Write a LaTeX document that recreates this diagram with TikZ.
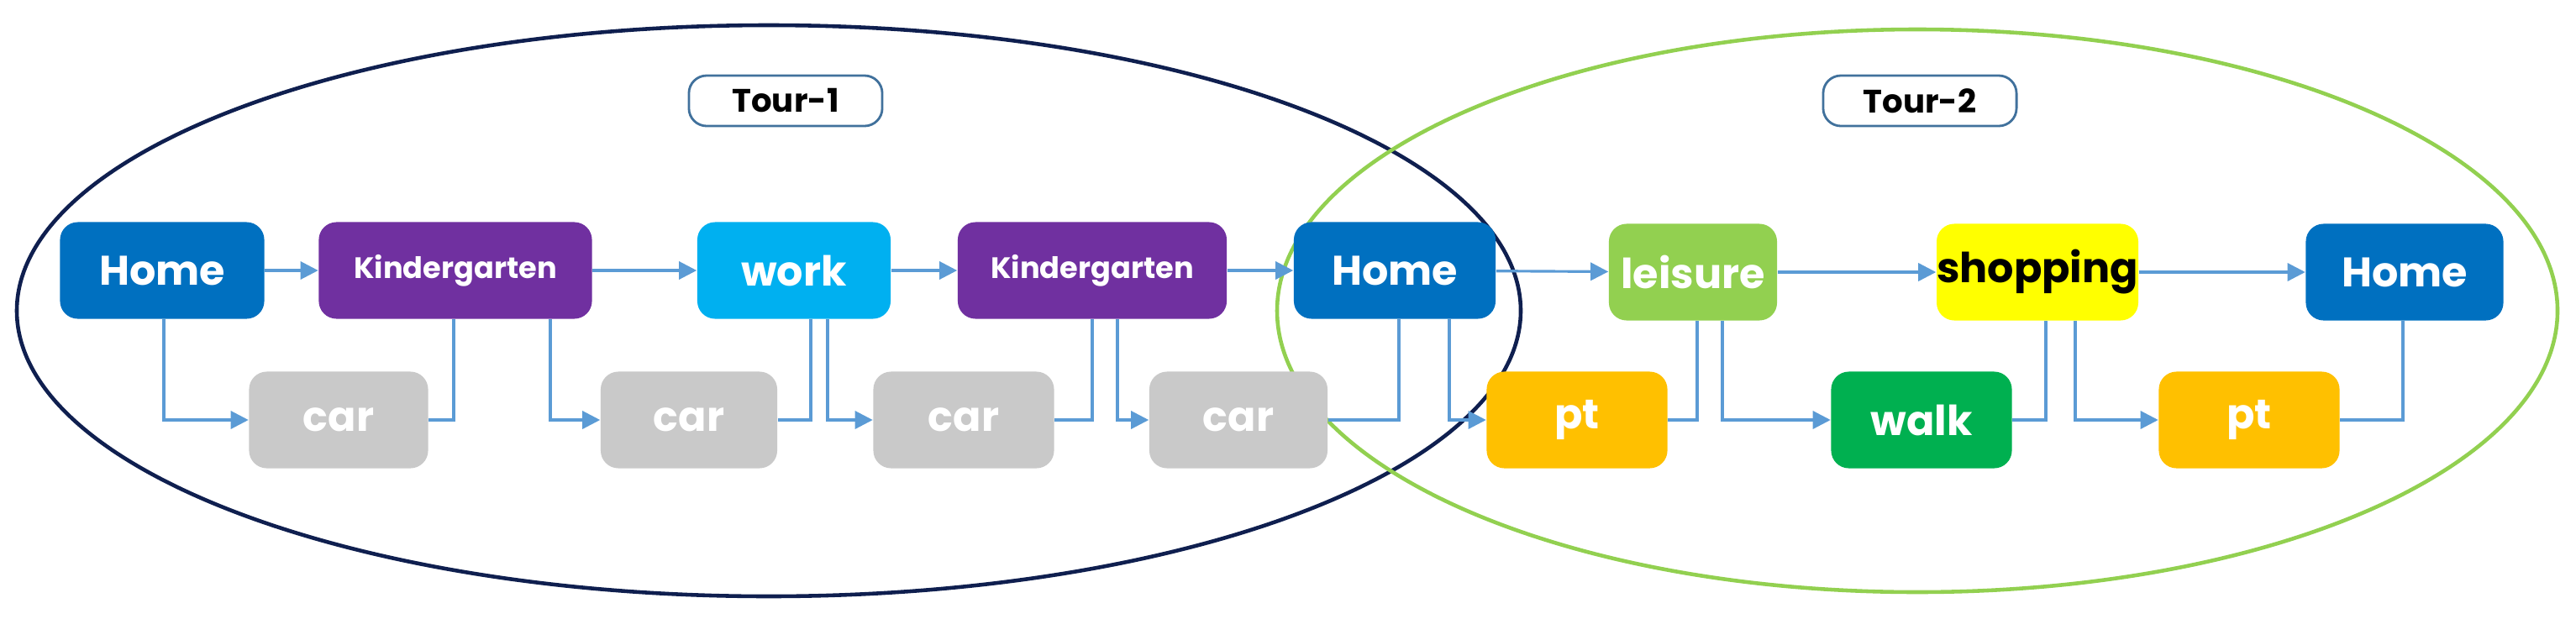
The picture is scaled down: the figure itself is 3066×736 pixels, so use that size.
\documentclass[tikz,border=0pt]{standalone}
\usepackage{fontspec}
\setmainfont{Poppins}
\usetikzlibrary{arrows.meta}
\definecolor{chome}{HTML}{0070C0}
\definecolor{ckg}{HTML}{7030A0}
\definecolor{cwork}{HTML}{00B0F0}
\definecolor{ccar}{HTML}{C9C9C9}
\definecolor{cleis}{HTML}{92D050}
\definecolor{cshop}{HTML}{FFFF00}
\definecolor{cpt}{HTML}{FFC000}
\definecolor{cwalk}{HTML}{00B050}
\definecolor{cline}{HTML}{5B9BD5}
\definecolor{cnavy}{HTML}{0F1F4F}
\definecolor{ctour}{HTML}{41719C}
\begin{document}
\begin{tikzpicture}[x=0.01cm,y=-0.01cm,
  box/.style={rounded corners=6pt,minimum height=1.15cm,text=white,font=\bfseries\fontsize{14}{16}\selectfont,inner sep=0pt},
  mode/.style={box,fill=ccar},
  conn/.style={cline,line width=0.9pt},
  arr/.style={conn,-{Triangle[length=6pt,width=6pt]}},
  tour/.style={draw=ctour,line width=0.8pt,rounded corners=6pt,fill=white,minimum width=2.3cm,minimum height=0.6cm,font=\bfseries\fontsize{11}{13}\selectfont}]
\useasboundingbox (0,0) rectangle (3066,736);
\draw[cnavy,line width=1.3pt] (915,370) ellipse [x radius=895,y radius=340];
\draw[cleis,line width=1.3pt] (2282,370) ellipse [x radius=762,y radius=335];
\node[tour] (t1) at (935,120) {Tour-1};
\node[tour] (t2) at (2285,120) {Tour-2};
% activities
\node[box,fill=chome,minimum width=2.43cm] (h1) at (193,322) {Home};
\node[box,fill=ckg,minimum width=3.25cm,font=\bfseries\fontsize{10}{12}\selectfont] (k1) at (542,322) {Kindergarten};
\node[box,fill=cwork,minimum width=2.3cm] (w) at (945,322) {work};
\node[box,fill=ckg,minimum width=3.2cm,font=\bfseries\fontsize{10}{12}\selectfont] (k2) at (1300,322) {Kindergarten};
\node[box,fill=chome,minimum width=2.4cm] (h2) at (1660,322) {Home};
\node[box,fill=cleis,minimum width=2.0cm] (l) at (2015,324) {leisure};
\node[box,fill=cshop,text=black,minimum width=2.3cm] (s) at (2425,324) {shopping};
\node[box,fill=chome,minimum width=2.35cm] (h3) at (2862,324) {Home};
% modes
\node[mode,minimum width=2.13cm] (m1) at (403,500) {car};
\node[mode,minimum width=2.1cm] (m2) at (820,500) {car};
\node[mode,minimum width=2.15cm] (m3) at (1147,500) {car};
\node[mode,minimum width=2.12cm] (m4) at (1474,500) {car};
\node[box,fill=cpt,minimum width=2.15cm] (m5) at (1877,500) {pt};
\node[box,fill=cwalk,minimum width=2.15cm] (m6) at (2287,500) {walk};
\node[box,fill=cpt,minimum width=2.15cm] (m7) at (2677,500) {pt};
% horizontal arrows
\foreach \a/\b in {h1/k1,k1/w,w/k2,k2/h2,h2/l,l/s,s/h3}
  \draw[arr] (\a) -- (\b);
% mode connectors: out x, in x
\foreach \a/\m/\b/\xo/\xi in {h1/m1/k1/195/540, k1/m2/w/655/965, w/m3/k2/985/1300, k2/m4/h2/1330/1665, h2/m5/l/1725/2020, l/m6/s/2050/2435, s/m7/h3/2470/2860}{
  \draw[arr] (\a.south -| \xo,0) |- (\m.west);
  \draw[conn] (\m.east) -| (\b.south -| \xi,0);
}
\end{tikzpicture}
\end{document}
